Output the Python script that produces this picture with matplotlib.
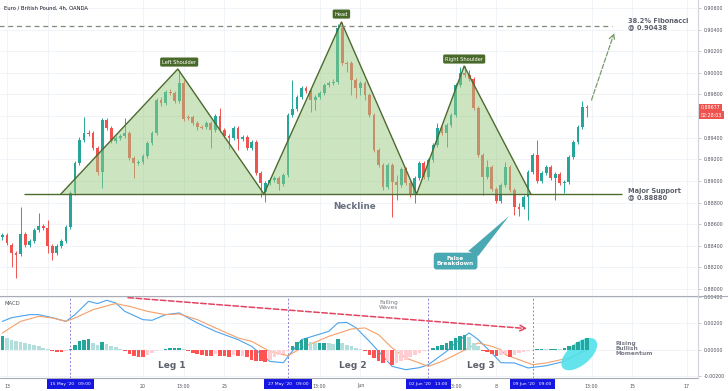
import numpy as np
import matplotlib.pyplot as plt
import matplotlib.transforms as mtransforms
from matplotlib.patches import Ellipse, Polygon
from matplotlib.lines import Line2D
from matplotlib.ticker import FuncFormatter

# EUR/GBP 4h candles, bar 0 = first bar of 13 May 2020
bars = list(range(-1, 129))
opens = [.88482, .88500, .88408, .88334, .88325, .88510, .88408, .88445, .88547, .88584,
         .88565, .88399, .88334, .88399, .88445, .88574, .88889, .89166, .89379, .89444,
         .89444, .89305, .89083, .89564, .89490, .89370, .89398, .89416, .89444, .89213,
         .89166, .89176, .89231, .89351, .89444, .89749, .89721, .89823, .89814, .89740,
         .89906, .89592, .89592, .89536, .89499, .89499, .89536, .89472, .89601, .89472,
         .89416, .89398, .89490, .89388, .89407, .89305, .89361, .89074, .88898, .88981,
         .89009, .89028, .88972, .89055, .89610, .89666, .89777, .89860, .89832, .89749,
         .89777, .89814, .89888, .89906, .89916, .90415, .90091, .90091, .89934, .89860,
         .89906, .89795, .89610, .89287, .89148, .88944, .89148, .88991, .88963, .89111,
         .88981, .88870, .89028, .89166, .89037, .89194, .89333, .89490, .89444, .89518,
         .89610, .89888, .89999, .89980, .89943, .89675, .89240, .89037, .89129, .88926,
         .88815, .88963, .89129, .88917, .88759, .88759, .88852, .89083, .89240, .89000,
         .89074, .89129, .89028, .89065, .88981, .88991, .89222, .89361, .89499, .89684]
highs = [.88519, .88519, .88426, .88352, .88759, .88528, .88463, .88565, .88704, .88602,
         .88639, .88417, .88417, .88463, .88593, .88907, .89185, .89407, .89592, .89472,
         .89462, .89324, .89583, .89583, .89509, .89416, .89435, .89583, .89462, .89231,
         .89194, .89250, .89370, .89462, .89768, .89777, .89842, .89851, .89832, .90027,
         .89934, .89610, .89610, .89555, .89518, .89555, .89555, .89620, .89675, .89490,
         .89435, .89509, .89509, .89425, .89425, .89379, .89379, .89092, .89000, .89028,
         .89046, .89046, .89074, .89629, .89934, .89795, .89879, .89879, .89851, .89795,
         .89832, .89906, .89925, .89943, .90452, .90471, .90110, .90110, .89953, .89925,
         .89925, .89814, .89629, .89305, .89166, .89166, .89166, .89055, .89129, .89129,
         .89000, .89046, .89185, .89185, .89213, .89351, .89536, .89509, .89536, .89629,
         .89906, .90054, .90063, .90027, .89962, .89694, .89259, .89194, .89148, .88944,
         .88981, .89176, .89148, .88935, .88796, .88870, .89102, .89259, .89379, .89092,
         .89148, .89148, .89083, .89083, .89009, .89240, .89379, .89518, .89740, .89703]
lows = [.88454, .88408, .88204, .88103, .88306, .88389, .88389, .88426, .88528, .88547,
        .88334, .88269, .88315, .88380, .88426, .88556, .88870, .89148, .89361, .89416,
        .89287, .89055, .88935, .89472, .89351, .89351, .89379, .89398, .89194, .89028,
        .89148, .89157, .89213, .89333, .89425, .89694, .89703, .89795, .89721, .89721,
        .89555, .89564, .89518, .89472, .89481, .89481, .89305, .89453, .89453, .89398,
        .89296, .89379, .89287, .89370, .89287, .89287, .89055, .88852, .88806, .88963,
        .88991, .88917, .88954, .89037, .89592, .89647, .89758, .89814, .89638, .89657,
        .89758, .89795, .89869, .89888, .89897, .90073, .90008, .89795, .89768, .89795,
        .89749, .89592, .89268, .89129, .88917, .88926, .88667, .88824, .88944, .88963,
        .88852, .88796, .89009, .89018, .89009, .89176, .89314, .89425, .89314, .89499,
        .89592, .89869, .89962, .89925, .89657, .89222, .88870, .89018, .88907, .88796,
        .88796, .88944, .88898, .88685, .88676, .88741, .88639, .89065, .88981, .88981,
        .89055, .89009, .88824, .88963, .88889, .88972, .89203, .89342, .89481, .89592]
closes = [.88500, .88426, .88334, .88315, .88510, .88408, .88445, .88547, .88584, .88565,
          .88399, .88334, .88399, .88445, .88574, .88889, .89166, .89379, .89444, .89435,
          .89305, .89083, .89564, .89490, .89370, .89398, .89416, .89444, .89213, .89166,
          .89176, .89231, .89351, .89444, .89749, .89721, .89823, .89814, .89740, .89906,
          .89573, .89583, .89536, .89499, .89490, .89536, .89472, .89601, .89472, .89416,
          .89398, .89490, .89388, .89407, .89305, .89361, .89074, .88981, .88981, .89009,
          .89028, .88972, .89055, .89610, .89666, .89777, .89860, .89832, .89749, .89777,
          .89814, .89888, .89906, .89916, .90415, .90091, .90082, .89934, .89860, .89906,
          .89795, .89610, .89287, .89148, .88944, .89148, .88991, .88963, .89111, .88981,
          .88870, .89028, .89166, .89037, .89194, .89333, .89490, .89444, .89518, .89610,
          .89888, .89999, .89980, .89943, .89675, .89240, .89037, .89129, .88926, .88815,
          .88963, .89129, .88917, .88759, .88741, .88852, .89083, .89240, .89000, .89074,
          .89129, .89028, .89065, .88981, .88991, .89222, .89361, .89499, .89684, .89677]

# MACD pane
macd_hist = [0.00101, 0.00089, 0.00076, 0.00068, 0.00061, 0.00051, 0.00043, 0.00036, 0.00025, 0.00015,
             0.00008, -0.00013, -0.00017, -0.00021, -0.00010, 0.00002, 0.00038, 0.00063, 0.00076, 0.00081,
             0.00051, 0.00038, 0.00055, 0.00046, 0.00030, 0.00017, 0.00008, -0.00013, -0.00030, -0.00046,
             -0.00055, -0.00057, -0.00038, -0.00025, -0.00010, -0.00004, 0.00004, 0.00010, 0.00010, 0.00013,
             0.00002, -0.00013, -0.00025, -0.00036, -0.00040, -0.00046, -0.00048, -0.00030, -0.00048, -0.00051,
             -0.00053, -0.00040, -0.00051, -0.00046, -0.00059, -0.00076, -0.00084, -0.00089, -0.00091, -0.00076,
             -0.00055, -0.00038, -0.00030, -0.00013, 0.00030, 0.00055, 0.00076, 0.00089, 0.00055, 0.00051,
             0.00051, 0.00051, 0.00049, 0.00046, 0.00081, 0.00051, 0.00038, 0.00025, 0.00013, 0.00004,
             -0.00013, -0.00038, -0.00063, -0.00084, -0.00101, -0.00084, -0.00114, -0.00101, -0.00089, -0.00076,
             -0.00055, -0.00038, -0.00025, -0.00013, -0.00002, 0.00013, 0.00025, 0.00038, 0.00051, 0.00068,
             0.00089, 0.00101, 0.00114, 0.00097, 0.00051, 0.00025, -0.00008, -0.00021, -0.00034, -0.00049,
             -0.00038, -0.00030, -0.00057, -0.00038, -0.00023, -0.00015, -0.00008, -0.00004, 0.00004, 0.00004,
             0.00002, 0.00004, 0.00004, 0.00002, 0.00011, 0.00025, 0.00038, 0.00055, 0.00076, 0.00089]
macd_bars = [-1, 1, 5, 7, 10, 13, 15, 18, 20, 22, 24, 26, 30, 32, 35, 38, 42, 46, 51, 54,
             58, 61, 62, 65, 71, 73, 75, 77, 80, 83, 85, 88, 91, 93, 97, 99, 102, 104, 107, 109,
             112, 115, 119, 123, 125, 128]
macd_vals = [0.00215, 0.00243, 0.00266, 0.00266, 0.00243, 0.00215, 0.00266, 0.00367, 0.00350, 0.00375,
             0.00355, 0.00291, 0.00228, 0.00223, 0.00266, 0.00279, 0.00203, 0.00139, 0.00076, 0.00025,
             -0.00089, -0.00099, -0.00053, 0.00076, 0.00139, 0.00203, 0.00207, 0.00167, 0.00063, -0.00051,
             -0.00127, -0.00152, -0.00137, -0.00114, -0.00013, 0.00051, 0.00127, 0.00076, -0.00025, -0.00099,
             -0.00101, -0.00139, -0.00122, -0.00089, -0.00053, 0.00013]
signal_bars = [-1, 3, 7, 10, 13, 15, 19, 23, 24, 27, 31, 35, 38, 42, 46, 51, 54, 58, 62, 65,
               71, 76, 79, 82, 85, 88, 93, 96, 99, 104, 107, 109, 110, 116, 119, 124, 128]
signal_vals = [0.00127, 0.00215, 0.00253, 0.00241, 0.00215, 0.00241, 0.00304, 0.00342, 0.00350, 0.00329,
               0.00291, 0.00266, 0.00271, 0.00228, 0.00165, 0.00089, 0.00063, -0.00013, -0.00046, 0.00013,
               0.00101, 0.00157, 0.00165, 0.00114, 0.00013, -0.00063, -0.00127, -0.00089, -0.00038, 0.00051,
               0.00025, 0.00000, -0.00038, -0.00114, -0.00101, -0.00063, -0.00005]

neckline = 0.88880
fib_382 = 0.90438
last_price = 0.89677

# head & shoulders outline (bar, price)
hs_bars = [11.9, 37.7, 56.7, 73.8, 90.4, 100.9, 115.6]
hs_prices = [neckline, 0.90036, neckline, 0.90470, neckline, 0.90063, neckline]

xgrid_bars = [0, 9, 30, 39, 48, 69, 78, 99, 108, 129, 138, 150]
xlab_bars = [0, 30, 39, 48, 69, 78, 99, 108, 129, 138, 150]
xlab_text = ['13', '20', '13:00', '25', '13:00', 'Jun', '13:00', '8', '13:00', '15', '17']
marker_bars = [14, 62, 93, 116]
marker_text = ["15 May '20   09:00", "27 May '20   09:00", "02 Jun '20   13:00", "09 Jun '20   09:00"]

price_ticks = np.arange(0.880, 0.90601, 0.002)
macd_ticks = [-0.002, 0.0, 0.002, 0.004]

W, H = 728, 391
fig = plt.figure(figsize=(W / 100, H / 100), dpi=100)
ax = fig.add_axes([0, 95 / H, 698 / W, 296 / H])
ax2 = fig.add_axes([0, 13 / H, 698 / W, 82 / H])

GRID = '#eef1f6'
TXT = '#5d606b'


def price_fmt(v, pos):
    # the 0.89600 label sits under the live price tag
    return '' if abs(v - 0.896) < 1e-6 else '%.5f' % v


for a in (ax, ax2):
    a.set_xlim(-1.545, 152.5)
    a.yaxis.tick_right()
    a.tick_params(axis='y', direction='out', length=2.5, width=0.5, color='#b2b5be',
                  labelsize=3.4, labelcolor='#50535e', pad=1.5)
    a.tick_params(axis='x', bottom=False, labelbottom=False)
    for s in a.spines.values():
        s.set_visible(False)
    a.set_xticks(xgrid_bars)
    a.grid(color=GRID, lw=0.6)
    a.set_axisbelow(True)
    a.yaxis.set_major_formatter(FuncFormatter(price_fmt))

ax.set_ylim(0.87936, 0.90674)
ax.set_yticks(price_ticks)
ax2.set_ylim(-0.002152, 0.004076)
ax2.set_yticks(macd_ticks)

# candles
UP, DN = '#26a69a', '#ef5350'
o = np.array(opens)
c = np.array(closes)
cols = np.where(c >= o, UP, DN)
ax.vlines(bars, lows, highs, colors=cols, lw=0.7, zorder=2)
ax.bar(bars, np.maximum(np.abs(c - o), 0.00004), bottom=np.minimum(o, c), width=0.62,
       color=cols, lw=0, zorder=2)

# head and shoulders
GREEN = '#4d6b2f'
for k in (0, 2, 4):
    tri = Polygon(list(zip(hs_bars[k:k + 3], hs_prices[k:k + 3])), closed=True,
                  fc='#9acb82', ec='none', alpha=0.5, zorder=3)
    ax.add_patch(tri)
ax.plot(hs_bars, hs_prices, color=GREEN, lw=1, zorder=4)
ax.hlines(neckline, 3.75, 135.8, color=GREEN, lw=1, zorder=4)
ax.hlines(fib_382, -2, 133.6, color='#808b7a', lw=0.9, linestyles=(0, (4, 3)), zorder=4)
ax.annotate('', xy=(134.0, 0.90369), xytext=(129.0, 0.89749),
            arrowprops=dict(arrowstyle='->', color='#7c9a6c', ls='--', lw=0.9,
                            shrinkA=0, shrinkB=0), zorder=4)

box = dict(boxstyle='round,pad=0.4,rounding_size=0.3', fc='#4a6a2b', ec='none')
for bx, py, t in [(38.0, 0.90100, 'Left Shoulder'), (73.8, 0.90544, 'Head'),
                  (100.9, 0.90128, 'Right Shoulder')]:
    ax.text(bx, py, t, color='white', fontsize=3.7, ha='center', va='center', bbox=box, zorder=6)

ax.text(76.8, 0.88768, 'Neckline', color='#6b7080', fontsize=6.3, fontweight='bold',
        ha='center', va='center', zorder=6)
ax.text(137.1, 0.90452, '38.2% Fibonacci\n@ 0.90438', color=TXT, fontsize=4.8, fontweight='bold',
        ha='left', va='center', linespacing=0.95, zorder=6)
ax.text(137.1, neckline, 'Major Support\n@ 0.88880', color=TXT, fontsize=4.8, fontweight='bold',
        ha='left', va='center', linespacing=0.95, zorder=6)

# false breakdown callout
TEAL = '#4aa8b2'
ax.add_patch(Polygon([(101.8, 0.88352), (104.0, 0.88306), (110.8, 0.88676)], closed=True,
                     fc=TEAL, ec='none', zorder=5))
ax.text(99.0, 0.88259, 'False\nBreakdown', color='white', fontsize=4.2, fontweight='bold',
        ha='center', va='center', linespacing=1.1, zorder=6,
        bbox=dict(boxstyle='round,pad=0.55,rounding_size=0.5', fc=TEAL, ec='none'))

ax.text(4 / 698, 1 - 8 / 296, 'Euro / British Pound, 4h, OANDA', transform=ax.transAxes,
        fontsize=3.8, color='#131722', va='center', ha='left')

# last price tags on the axis
tr = mtransforms.blended_transform_factory(ax.transAxes, ax.transData)
red_box = dict(boxstyle='square,pad=0.35', fc='#ef5350', ec='none')
ax.text(1.004, last_price, '%.5f' % last_price, transform=tr, color='white', fontsize=3.4,
        ha='left', va='center', bbox=red_box, clip_on=False, zorder=7)
ax.text(1.004, last_price - 0.00068, '02:28:03', transform=tr, color='white', fontsize=3.4,
        ha='left', va='center', bbox=red_box, clip_on=False, zorder=7)

# MACD
hcols = []
prev = 0.0
for h in macd_hist:
    if h >= 0:
        hcols.append('#26a69a' if h >= prev else '#b2dfdb')
    else:
        hcols.append('#ff5252' if h < prev else '#ffcdd2')
    prev = h
ax2.plot(macd_bars, macd_vals, color='#4aa3ee', lw=0.8, zorder=2)
ax2.plot(signal_bars, signal_vals, color='#f4a06a', lw=0.8, zorder=2)
ell_tr = fig.dpi_scale_trans + mtransforms.ScaledTranslation(126.3, -0.00034, ax2.transData)
ax2.add_patch(Ellipse((0, 0), 0.43, 0.22, angle=40, transform=ell_tr, fc='#52e2ec', ec='none',
                      alpha=0.9, zorder=2.5))
ax2.bar(bars, macd_hist, width=0.8, color=hcols, lw=0, zorder=3)

for mb in marker_bars:
    ax2.axvline(mb, color='#8a80d8', ls=(0, (2, 2)), lw=0.7, zorder=1.8)

ax2.annotate('', xy=(114.8, 0.00160), xytext=(26.7, 0.00395),
             arrowprops=dict(arrowstyle='->', color='#e3435f', ls='--', lw=1.1,
                             shrinkA=0, shrinkB=0), zorder=4)
ax2.text(84.3, 0.00342, 'Falling\nWaves', color='#787b86', fontsize=4.2, ha='center',
         va='center', linespacing=0.95, zorder=5)
ax2.text(134.2, 0.00008, 'Rising\nBullish\nMomentum', color='#787b86', fontsize=4.2,
         fontweight='bold', ha='left', va='center', linespacing=0.95, zorder=5)
ax2.text(-0.66, 0.0035, 'MACD', color='#50535e', fontsize=3.8, ha='left', va='center', zorder=5)
for lb, t in [(36.3, 'Leg 1'), (76.4, 'Leg 2'), (104.6, 'Leg 3')]:
    ax2.text(lb, -0.00122, t, color=TXT, fontsize=6.5, fontweight='bold', ha='center',
             va='center', zorder=5)

# time axis
trx = mtransforms.blended_transform_factory(ax2.transData, ax2.transAxes)
for xb, t in zip(xlab_bars, xlab_text):
    ax2.text(xb, -8 / 82, t, transform=trx, fontsize=3.4, color='#50535e', ha='center',
             va='center', clip_on=False, zorder=5)
for xb, t in zip(marker_bars, marker_text):
    ax2.text(xb, -6 / 82, t, transform=trx, fontsize=3.2, color='white', ha='center',
             va='center', clip_on=False, zorder=6,
             bbox=dict(boxstyle='square,pad=0.75', fc='#1616e2', ec='none'))

# pane borders
fig.add_artist(Line2D([0, 1], [95 / H, 95 / H], color='#a9acb5', lw=0.8))
fig.add_artist(Line2D([0, 698 / W], [13 / H, 13 / H], color='#a9acb5', lw=0.8))
fig.add_artist(Line2D([698 / W, 698 / W], [13 / H, 1], color='#d1d4dc', lw=0.8))

fig.savefig('out.png', dpi=100, facecolor='white')
